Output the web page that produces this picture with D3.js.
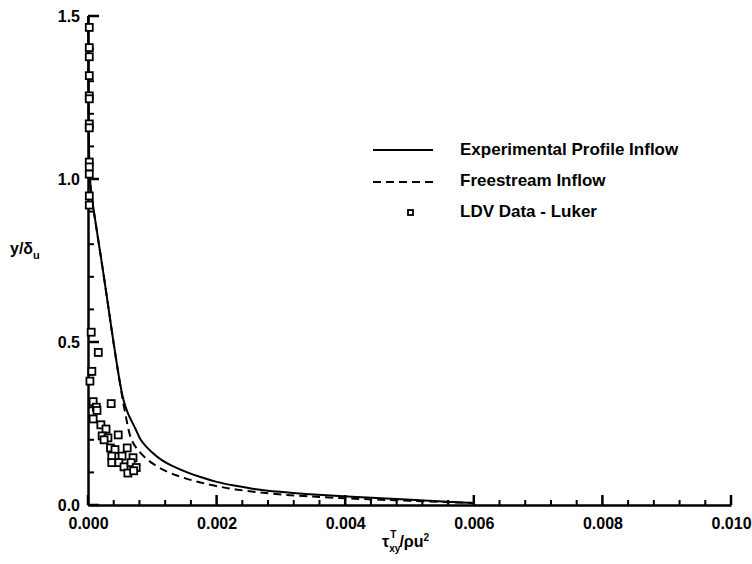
<!DOCTYPE html>

<head>
  <meta charset="utf-8">
  <script src="https://d3js.org/d3.v7.min.js"></script>
  <style>
    body {
      margin: 0;
      background: #fff;
    }
    text {
      font-family: "Liberation Sans", Arial, sans-serif;
      font-weight: bold;
      fill: #000;
    }
  </style>
</head>

<body>
  <script>
    // chart size
    var outerWidth = 752,
      outerHeight = 564;

    var margin = {
      top: 16,
      left: 88,
      right: 21,
      bottom: 59
    };

    var width = outerWidth - margin.left - margin.right,
      height = outerHeight - margin.top - margin.bottom;

    // tick values
    var xTicks = [0, 0.002, 0.004, 0.006, 0.008, 0.010];
    var yTicks = [0, 0.5, 1.0, 1.5];
    var xMinorTicks = [0.0004, 0.0008, 0.0012, 0.0016, 0.0024, 0.0028, 0.0032, 0.0036, 0.0044, 0.0048, 0.0052, 0.0056, 0.0064, 0.0068, 0.0072, 0.0076, 0.0084, 0.0088, 0.0092, 0.0096];
    var yMinorTicks = [0.1, 0.2, 0.3, 0.4, 0.6, 0.7, 0.8, 0.9, 1.1, 1.2, 1.3, 1.4];

    // solid line - experimental profile inflow
    var solidX = [0.000003, 0.000008, 0.00002, 0.00006, 0.00013, 0.00021, 0.0003, 0.00038, 0.00045, 0.0005, 0.00055, 0.00062, 0.00067, 0.00075, 0.00081, 0.0009, 0.001, 0.00112, 0.0013, 0.00154, 0.00174, 0.002, 0.00226, 0.0026, 0.003, 0.0033, 0.0041, 0.0049, 0.006];
    var solidY = [1.5, 1.2, 1.0, 0.94, 0.85, 0.75, 0.63, 0.52, 0.43, 0.37, 0.32, 0.28, 0.26, 0.23, 0.2, 0.18, 0.16, 0.14, 0.12, 0.1, 0.086, 0.07, 0.06, 0.048, 0.04, 0.034, 0.025, 0.017, 0.006];

    // dashed line - freestream inflow
    var dashX = [0.000003, 0.000008, 0.00002, 0.00006, 0.00013, 0.00021, 0.0003, 0.00038, 0.00045, 0.0005, 0.00055, 0.0006, 0.00063, 0.00067, 0.00076, 0.00096, 0.00128, 0.00174, 0.00226, 0.003, 0.0038, 0.0048, 0.006];
    var dashY = [1.5, 1.2, 1.0, 0.94, 0.85, 0.75, 0.63, 0.52, 0.43, 0.37, 0.31, 0.26, 0.23, 0.2, 0.17, 0.13, 0.095, 0.068, 0.047, 0.031, 0.022, 0.014, 0.006];

    // LDV data - Luker
    var ldvX = [0.00002, 0.00002, 0.00002, 0.00002, 0.00002, 0.00002, 0.00002, 0.00002, 0.00002, 0.00002, 0.00002, 0.00002, 0.00002,
      0.00005, 0.00016, 0.00006, 0.00003, 0.00008, 0.00013, 0.00014, 0.00036, 0.00008, 0.0002, 0.00028, 0.00022, 0.00031, 0.00025, 0.00047,
      0.00035, 0.00042, 0.00061, 0.00037, 0.00053, 0.0007, 0.00037, 0.00048, 0.00056, 0.00067, 0.00075, 0.00062, 0.00071];
    var ldvY = [1.465, 1.403, 1.375, 1.317, 1.255, 1.246, 1.169, 1.157, 1.052, 1.037, 1.015, 0.948, 0.92,
      0.53, 0.468, 0.41, 0.38, 0.317, 0.30, 0.29, 0.311, 0.264, 0.246, 0.233, 0.212, 0.206, 0.20, 0.215,
      0.175, 0.17, 0.175, 0.15, 0.15, 0.145, 0.13, 0.13, 0.117, 0.13, 0.115, 0.098, 0.105];

    var legendLabels = ["Experimental Profile Inflow", "Freestream Inflow", "LDV Data - Luker"];

    var xScale = d3.scaleLinear()
      .domain([0, 0.010])
      .range([0, width]);

    var yScale = d3.scaleLinear()
      .domain([0, 1.5])
      .range([height, 0]);

    var svg = d3.select("body")
      .append("svg")
      .attr("width", outerWidth)
      .attr("height", outerHeight)
      .append("g")
      .attr("transform", "translate(" + margin.left + " " + margin.top + ")");

    // axes give the line and the labels
    var xAxis = d3.axisBottom(xScale)
      .tickValues(xTicks)
      .tickSize(0)
      .tickPadding(13)
      .tickFormat(d3.format(".3f"));

    var yAxis = d3.axisLeft(yScale)
      .tickValues(yTicks)
      .tickSize(0)
      .tickPadding(8)
      .tickFormat(d3.format(".1f"));

    svg.append("g")
      .attr("transform", "translate(0 " + height + ")")
      .call(xAxis);
    svg.append("g").call(yAxis);

    svg.selectAll(".domain").attr("stroke", "#000").attr("stroke-width", 2.5);
    svg.selectAll(".tick text").style("font-size", "16px");

    // tick marks drawn by hand as thin rects, pointing into the plot
    var tickG = svg.append("g").attr("fill", "#000");

    tickG.selectAll("rect.xmaj")
      .data(xTicks)
      .enter().append("rect")
      .attr("class", "xmaj")
      .attr("x", function(d) { return xScale(d) - 1.25; })
      .attr("y", height - 10)
      .attr("width", 2.5)
      .attr("height", 10);

    tickG.selectAll("rect.xmin")
      .data(xMinorTicks)
      .enter().append("rect")
      .attr("class", "xmin")
      .attr("x", function(d) { return xScale(d) - 1; })
      .attr("y", height - 5)
      .attr("width", 2)
      .attr("height", 5);

    tickG.selectAll("rect.ymaj")
      .data(yTicks)
      .enter().append("rect")
      .attr("class", "ymaj")
      .attr("x", 0)
      .attr("y", function(d) { return yScale(d) - 1.25; })
      .attr("width", 11)
      .attr("height", 2.5);

    tickG.selectAll("rect.ymin")
      .data(yMinorTicks)
      .enter().append("rect")
      .attr("class", "ymin")
      .attr("x", 0)
      .attr("y", function(d) { return yScale(d) - 1; })
      .attr("width", 6)
      .attr("height", 2);

    // curves
    var line = d3.line()
      .x(function(d) { return xScale(d[0]); })
      .y(function(d) { return yScale(d[1]); })
      .curve(d3.curveBasis);

    var solidData = solidX.map(function(x, i) { return [x, solidY[i]]; });
    var dashData = dashX.map(function(x, i) { return [x, dashY[i]]; });

    svg.append("path")
      .datum(dashData)
      .attr("d", line)
      .attr("fill", "none")
      .attr("stroke", "#000")
      .attr("stroke-width", 2)
      .attr("stroke-dasharray", "8,5");

    svg.append("path")
      .datum(solidData)
      .attr("d", line)
      .attr("fill", "none")
      .attr("stroke", "#000")
      .attr("stroke-width", 2);

    // squares
    svg.selectAll("rect.ldv")
      .data(ldvX.map(function(x, i) { return [x, ldvY[i]]; }))
      .enter()
      .append("rect")
      .attr("class", "ldv")
      .attr("x", function(d) { return xScale(d[0]) - 3.5; })
      .attr("y", function(d) { return yScale(d[1]) - 3.5; })
      .attr("width", 7)
      .attr("height", 7)
      .attr("fill", "#fff")
      .attr("stroke", "#000")
      .attr("stroke-width", 1.8);

    // legend
    var legend = svg.append("g")
      .attr("transform", "translate(285 134)");

    legend.append("line")
      .attr("x1", 0).attr("x2", 60)
      .attr("y1", 0).attr("y2", 0)
      .attr("stroke", "#000").attr("stroke-width", 2);

    legend.append("line")
      .attr("x1", 0).attr("x2", 60)
      .attr("y1", 32).attr("y2", 32)
      .attr("stroke", "#000").attr("stroke-width", 2)
      .attr("stroke-dasharray", "8,5");

    legend.append("rect")
      .attr("x", 35).attr("y", 60)
      .attr("width", 5).attr("height", 5)
      .attr("fill", "#fff")
      .attr("stroke", "#000").attr("stroke-width", 1.8);

    legend.selectAll("text.leg")
      .data(legendLabels)
      .enter()
      .append("text")
      .attr("class", "leg")
      .attr("x", 87)
      .attr("y", function(d, i) { return i * 31 + 5; })
      .style("font-size", "17px")
      .text(function(d) { return d; });

    // axis titles
    var yTitle = svg.append("text")
      .attr("x", -78)
      .attr("y", 238)
      .style("font-size", "16px");
    yTitle.append("tspan").text("y/δ");
    yTitle.append("tspan").attr("dy", 5).style("font-size", "11px").text("u");

    var xTitle = svg.append("text")
      .attr("x", 294)
      .attr("y", 531)
      .style("font-size", "16px");
    xTitle.append("tspan").text("τ");
    xTitle.append("tspan").attr("dy", 5).style("font-size", "10px").text("xy");
    xTitle.append("tspan").attr("dx", -10).attr("dy", -14).style("font-size", "10px").text("T");
    xTitle.append("tspan").attr("dx", 3).attr("dy", 9).text("/ρu");
    xTitle.append("tspan").attr("dy", -6).style("font-size", "10px").text("2");
  </script>
</body>
